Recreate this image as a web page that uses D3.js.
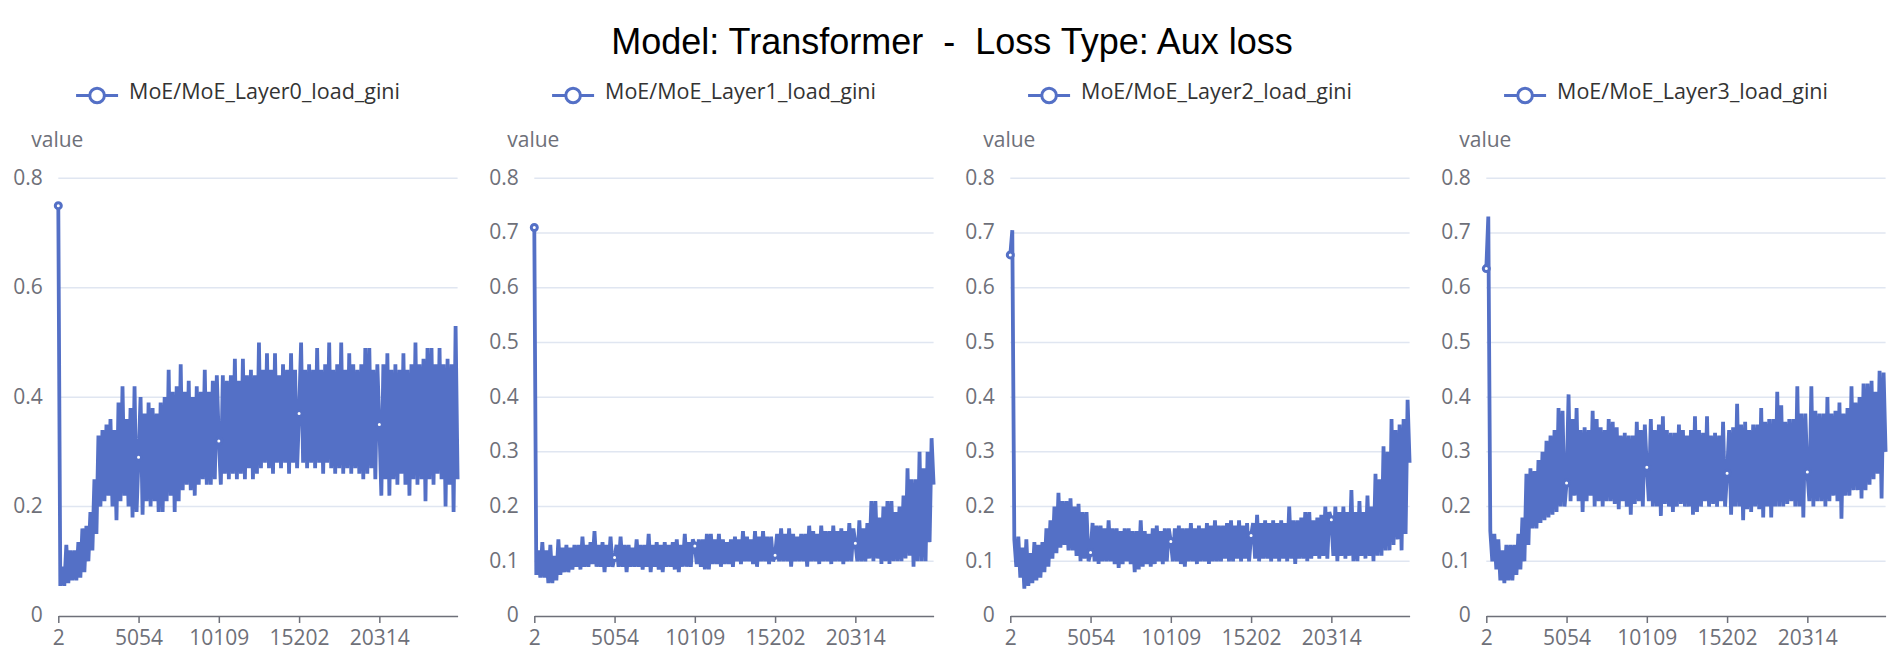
<!DOCTYPE html>
<html><head><meta charset="utf-8">
<script src="https://cdn.jsdelivr.net/npm/d3@7"></script>
<style>html,body{margin:0;padding:0;background:#fff;} svg{display:block;}</style>
</head><body><svg id="chart" width="1904" height="668"></svg>
<script>
const chartTitle = "Model: Transformer  -  Loss Type: Aux loss";
const seriesNames = ["MoE/MoE_Layer0_load_gini","MoE/MoE_Layer1_load_gini","MoE/MoE_Layer2_load_gini","MoE/MoE_Layer3_load_gini"];
const yAxisName = "value";
const tickIndex = [0, 40, 80, 120, 160];
const tickLabels = ["2", "5054", "10109", "15202", "20314"];
const yTicksLayer0 = [0, 0.2, 0.4, 0.6, 0.8];
const yTicksOther = [0, 0.1, 0.2, 0.3, 0.4, 0.5, 0.6, 0.7, 0.8];

const layer0 = [
0.75,0.055,0.09,0.055,0.13,0.06,0.12,0.065,0.12,0.065,0.135,0.07,0.16,0.08,0.165,0.1,0.19,0.12,0.25,0.15,
0.33,0.2,0.34,0.21,0.35,0.22,0.36,0.2,0.34,0.175,0.39,0.21,0.42,0.22,0.36,0.2,0.38,0.18,0.42,0.19,
0.29,0.4,0.185,0.37,0.21,0.39,0.2,0.38,0.21,0.37,0.19,0.39,0.19,0.4,0.21,0.45,0.22,0.41,0.19,0.42,
0.21,0.46,0.23,0.41,0.24,0.43,0.23,0.4,0.22,0.42,0.24,0.41,0.25,0.45,0.24,0.41,0.24,0.43,0.25,0.44,
0.32,0.24,0.44,0.26,0.43,0.25,0.44,0.26,0.47,0.25,0.43,0.26,0.47,0.25,0.44,0.27,0.45,0.25,0.44,0.26,
0.5,0.27,0.45,0.28,0.48,0.27,0.45,0.26,0.48,0.28,0.44,0.27,0.46,0.28,0.45,0.26,0.48,0.28,0.45,0.27,
0.37,0.5,0.28,0.45,0.27,0.46,0.28,0.45,0.27,0.49,0.28,0.45,0.26,0.46,0.28,0.5,0.27,0.45,0.26,0.46,
0.27,0.5,0.26,0.45,0.27,0.48,0.26,0.46,0.27,0.45,0.26,0.46,0.25,0.49,0.26,0.49,0.27,0.45,0.25,0.46,
0.35,0.22,0.46,0.25,0.48,0.22,0.45,0.25,0.46,0.24,0.45,0.26,0.48,0.24,0.45,0.22,0.46,0.25,0.5,0.24,
0.46,0.25,0.47,0.21,0.49,0.25,0.49,0.24,0.46,0.26,0.49,0.25,0.46,0.2,0.47,0.24,0.46,0.19,0.53,0.25
];
const layer1 = [
0.71,0.075,0.12,0.07,0.135,0.07,0.12,0.06,0.13,0.06,0.11,0.065,0.14,0.075,0.125,0.08,0.13,0.08,0.125,0.085,
0.13,0.09,0.13,0.085,0.145,0.09,0.13,0.09,0.135,0.095,0.155,0.09,0.13,0.09,0.135,0.08,0.13,0.09,0.145,0.09,
0.107,0.13,0.09,0.145,0.09,0.13,0.08,0.13,0.09,0.125,0.09,0.14,0.09,0.13,0.085,0.13,0.09,0.15,0.08,0.13,
0.09,0.135,0.085,0.13,0.08,0.135,0.09,0.13,0.09,0.135,0.085,0.14,0.08,0.13,0.09,0.15,0.09,0.135,0.09,0.14,
0.128,0.095,0.14,0.09,0.14,0.085,0.15,0.085,0.15,0.095,0.14,0.095,0.15,0.09,0.14,0.095,0.135,0.095,0.14,0.09,
0.145,0.1,0.14,0.095,0.155,0.1,0.145,0.1,0.14,0.095,0.155,0.09,0.145,0.1,0.155,0.1,0.145,0.095,0.145,0.1,
0.111,0.15,0.1,0.16,0.1,0.15,0.1,0.16,0.09,0.15,0.1,0.145,0.1,0.15,0.1,0.15,0.09,0.165,0.1,0.155,
0.1,0.15,0.095,0.165,0.1,0.155,0.1,0.155,0.095,0.165,0.1,0.155,0.1,0.16,0.095,0.155,0.1,0.17,0.1,0.16,
0.133,0.1,0.175,0.1,0.16,0.1,0.17,0.105,0.21,0.1,0.21,0.105,0.18,0.095,0.2,0.1,0.21,0.095,0.21,0.1,
0.19,0.1,0.2,0.1,0.22,0.105,0.27,0.11,0.25,0.09,0.25,0.1,0.3,0.1,0.27,0.1,0.3,0.135,0.325,0.24
];
const layer2 = [
0.66,0.705,0.14,0.09,0.145,0.07,0.125,0.05,0.14,0.055,0.115,0.06,0.135,0.065,0.13,0.07,0.135,0.08,0.16,0.09,
0.175,0.105,0.2,0.115,0.225,0.125,0.21,0.13,0.21,0.12,0.215,0.12,0.2,0.11,0.205,0.1,0.19,0.105,0.19,0.1,
0.116,0.17,0.1,0.165,0.095,0.165,0.1,0.16,0.1,0.175,0.1,0.16,0.095,0.16,0.088,0.155,0.095,0.16,0.1,0.16,
0.095,0.155,0.08,0.155,0.085,0.175,0.09,0.155,0.095,0.15,0.09,0.16,0.095,0.165,0.1,0.155,0.095,0.16,0.1,0.16,
0.136,0.1,0.16,0.1,0.165,0.095,0.16,0.09,0.16,0.1,0.17,0.1,0.16,0.095,0.165,0.1,0.16,0.1,0.17,0.095,
0.165,0.1,0.175,0.1,0.165,0.1,0.165,0.105,0.17,0.1,0.175,0.1,0.165,0.105,0.175,0.1,0.165,0.105,0.17,0.1,
0.147,0.17,0.105,0.185,0.1,0.17,0.105,0.175,0.105,0.17,0.1,0.175,0.105,0.17,0.1,0.175,0.105,0.17,0.1,0.2,
0.105,0.175,0.095,0.175,0.105,0.18,0.105,0.19,0.1,0.19,0.105,0.175,0.11,0.18,0.105,0.185,0.11,0.2,0.105,0.19,
0.176,0.11,0.2,0.1,0.19,0.11,0.2,0.105,0.19,0.11,0.23,0.1,0.19,0.1,0.21,0.11,0.19,0.105,0.22,0.11,
0.2,0.1,0.26,0.11,0.25,0.11,0.31,0.12,0.3,0.12,0.36,0.13,0.34,0.14,0.35,0.12,0.36,0.15,0.395,0.28
];
const layer3 = [
0.635,0.73,0.155,0.1,0.15,0.085,0.14,0.065,0.12,0.06,0.13,0.065,0.13,0.065,0.13,0.075,0.15,0.085,0.18,0.1,
0.26,0.13,0.27,0.16,0.265,0.16,0.285,0.17,0.3,0.175,0.32,0.18,0.33,0.185,0.34,0.19,0.38,0.2,0.375,0.2,
0.243,0.405,0.21,0.36,0.22,0.38,0.21,0.34,0.19,0.345,0.21,0.34,0.22,0.375,0.2,0.36,0.21,0.345,0.2,0.34,
0.21,0.36,0.21,0.355,0.205,0.345,0.195,0.33,0.21,0.335,0.2,0.33,0.185,0.33,0.205,0.355,0.21,0.34,0.2,0.35,
0.272,0.21,0.36,0.2,0.34,0.2,0.35,0.183,0.365,0.205,0.34,0.2,0.335,0.19,0.335,0.2,0.35,0.205,0.34,0.2,
0.33,0.2,0.34,0.185,0.365,0.19,0.34,0.2,0.335,0.21,0.365,0.2,0.33,0.205,0.335,0.2,0.33,0.21,0.355,0.2,
0.261,0.34,0.185,0.345,0.2,0.388,0.2,0.35,0.175,0.355,0.195,0.34,0.19,0.35,0.2,0.35,0.195,0.38,0.18,0.355,
0.2,0.36,0.18,0.36,0.2,0.41,0.2,0.385,0.2,0.355,0.205,0.36,0.21,0.36,0.2,0.42,0.2,0.37,0.18,0.37,
0.263,0.21,0.42,0.2,0.375,0.21,0.37,0.21,0.37,0.2,0.4,0.21,0.37,0.22,0.375,0.21,0.39,0.178,0.37,0.22,
0.38,0.22,0.42,0.23,0.39,0.23,0.4,0.215,0.425,0.23,0.425,0.24,0.43,0.25,0.41,0.26,0.448,0.215,0.445,0.3
];

const panels = [
  {name: seriesNames[0], values: layer0, yTicks: yTicksLayer0},
  {name: seriesNames[1], values: layer1, yTicks: yTicksOther},
  {name: seriesNames[2], values: layer2, yTicks: yTicksOther},
  {name: seriesNames[3], values: layer3, yTicks: yTicksOther}
];

const W = 1904, H = 668;
const color = "#5470c6", axisColor = "#6E7079", gridColor = "#E0E6F1";
const uiFont = "'Open Sans', 'Noto Sans', sans-serif";
const panelW = 476, gridOffset = 58.3, gridW = 399.3;
const gridTop = 178.3, gridBottom = 616;

const svg = d3.select("#chart");
svg.append("rect").attr("width", W).attr("height", H).attr("fill", "#fff");

svg.append("text")
  .attr("x", W / 2).attr("y", 54)
  .attr("text-anchor", "middle")
  .style("white-space", "pre")
  .attr("font-family", "'Liberation Sans', Arial, sans-serif")
  .attr("font-size", 36).attr("fill", "#000")
  .text(chartTitle);

panels.forEach((p, j) => {
  const left = gridOffset + panelW * j;
  const idx = d3.range(p.values.length);
  const x = d3.scalePoint().domain(idx).range([left, left + gridW]);
  const y = d3.scaleLinear().domain([0, 0.8]).range([gridBottom, gridTop]);
  const g = svg.append("g");

  g.selectAll("line.grid").data(p.yTicks.filter(t => t > 0)).enter().append("line")
    .attr("x1", left).attr("x2", left + gridW)
    .attr("y1", d => y(d)).attr("y2", d => y(d))
    .attr("stroke", gridColor).attr("stroke-width", 1.5);

  const yAxis = d3.axisLeft(y).tickValues(p.yTicks).tickSize(0).tickPadding(15.5)
    .tickFormat(d => d === 0 ? "0" : d3.format(".1f")(d));
  const ya = g.append("g").attr("transform", `translate(${left},0)`).call(yAxis);
  ya.select(".domain").remove();
  ya.selectAll("text").attr("font-family", uiFont).attr("font-size", 21)
    .attr("fill", axisColor).attr("dy", "0.28em");

  g.append("text").attr("x", left - 1).attr("y", 147)
    .attr("text-anchor", "middle").attr("font-family", uiFont).attr("font-size", 21)
    .attr("fill", axisColor).text(yAxisName);

  const xAxis = d3.axisBottom(x).tickValues(tickIndex)
    .tickFormat((d, i) => tickLabels[i]).tickSize(7).tickSizeOuter(0).tickPadding(7);
  const xa = g.append("g").attr("transform", `translate(0,${gridBottom})`).call(xAxis);
  xa.select(".domain").attr("stroke", axisColor).attr("stroke-width", 1.5);
  xa.selectAll(".tick line").attr("stroke", axisColor).attr("stroke-width", 1.5);
  xa.selectAll("text").attr("font-family", uiFont).attr("font-size", 21)
    .attr("fill", axisColor);

  const line = d3.line().x((d, i) => x(i)).y(d => y(d));
  g.append("path").datum(p.values)
    .attr("d", line).attr("fill", "none")
    .attr("stroke", color).attr("stroke-width", 3.8)
    .attr("stroke-linejoin", "bevel");

  g.selectAll("circle.sym").data(tickIndex).enter().append("circle")
    .attr("cx", d => x(d)).attr("cy", d => y(p.values[d]))
    .attr("r", 3).attr("fill", "#fff").attr("stroke", color).attr("stroke-width", 3);

  const lg = svg.append("g");
  const lt = lg.append("text").attr("x", 53).attr("y", 99)
    .attr("font-family", uiFont).attr("font-size", 21.5).attr("fill", "#333").text(p.name);
  const tw = lt.node().getComputedTextLength();
  lg.append("line").attr("x1", 0).attr("x2", 42).attr("y1", 95.5).attr("y2", 95.5)
    .attr("stroke", color).attr("stroke-width", 3);
  lg.append("circle").attr("cx", 21).attr("cy", 95.5).attr("r", 7.3)
    .attr("fill", "#fff").attr("stroke", color).attr("stroke-width", 3);
  const totalW = 53 + tw;
  lg.attr("transform", `translate(${panelW * j + panelW / 2 - totalW / 2},0)`);
});
</script>
</body></html>
